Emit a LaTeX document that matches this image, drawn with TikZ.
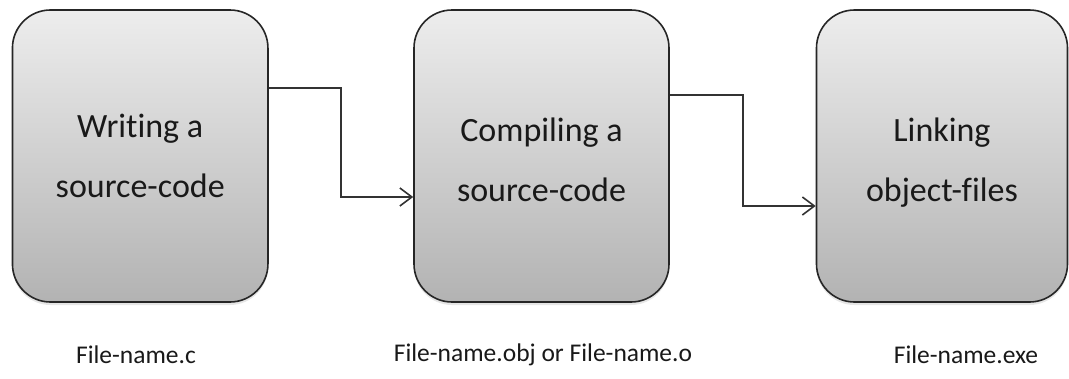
\documentclass[tikz,border=0pt]{standalone}
\usepackage{fontspec}
\setmainfont{Carlito}[Ligatures=NoCommon]
\usetikzlibrary{arrows.meta,shadows}
\begin{document}
\begin{tikzpicture}[x=1pt,y=-1pt,
  stage/.style={draw=black!85, line width=1.6pt, rounded corners=38pt,
    top color=black!7, bottom color=black!30,
    minimum height=292pt,
    drop shadow={opacity=0.2, shadow xshift=0pt, shadow yshift=-3pt}},
  stagetext/.style={text=black!90, align=center,
    font=\fontsize{34}{60}\selectfont},
  flow/.style={draw=black!80, line width=1.6pt,
    -{Straight Barb[length=12pt, width=18pt, line width=1.6pt]}},
  fname/.style={text=black!90, font=\fontsize{25.5}{28}\selectfont}]
\useasboundingbox (0,0) rectangle (1069,378);
\node[stage, minimum width=255.5pt] (b1) at (140.2,156) {};
\node[stage, minimum width=255pt] (b2) at (541.5,156) {};
\node[stage, minimum width=251pt] (b3) at (942,156) {};
\node[stagetext] (t1) at (b1.center) {Writing a\\source-code};
\node[stagetext, yshift=-4pt] (t2) at (b2.center) {Compiling a\\source-code};
\node[stagetext, yshift=-7pt] (t3) at (b3.center) {Linking\\object-files};
\node[fname] (l1) at (136,355) {File-name.c};
\node[fname] (l2) at (543,355) {File-name.obj or File-name.o};
\node[fname] (l3) at (966,355) {File-name.exe};
\coordinate (k1a) at (341,88);
\coordinate (k1b) at (341,197);
\coordinate (k2a) at (743,95);
\coordinate (k2b) at (743,206);
\draw[flow] (b1.east |- k1a) -- (k1a) -- (k1b) -- (b2.west |- k1b);
\draw[flow] (b2.east |- k2a) -- (k2a) -- (k2b) -- (b3.west |- k2b);
\end{tikzpicture}
\end{document}
